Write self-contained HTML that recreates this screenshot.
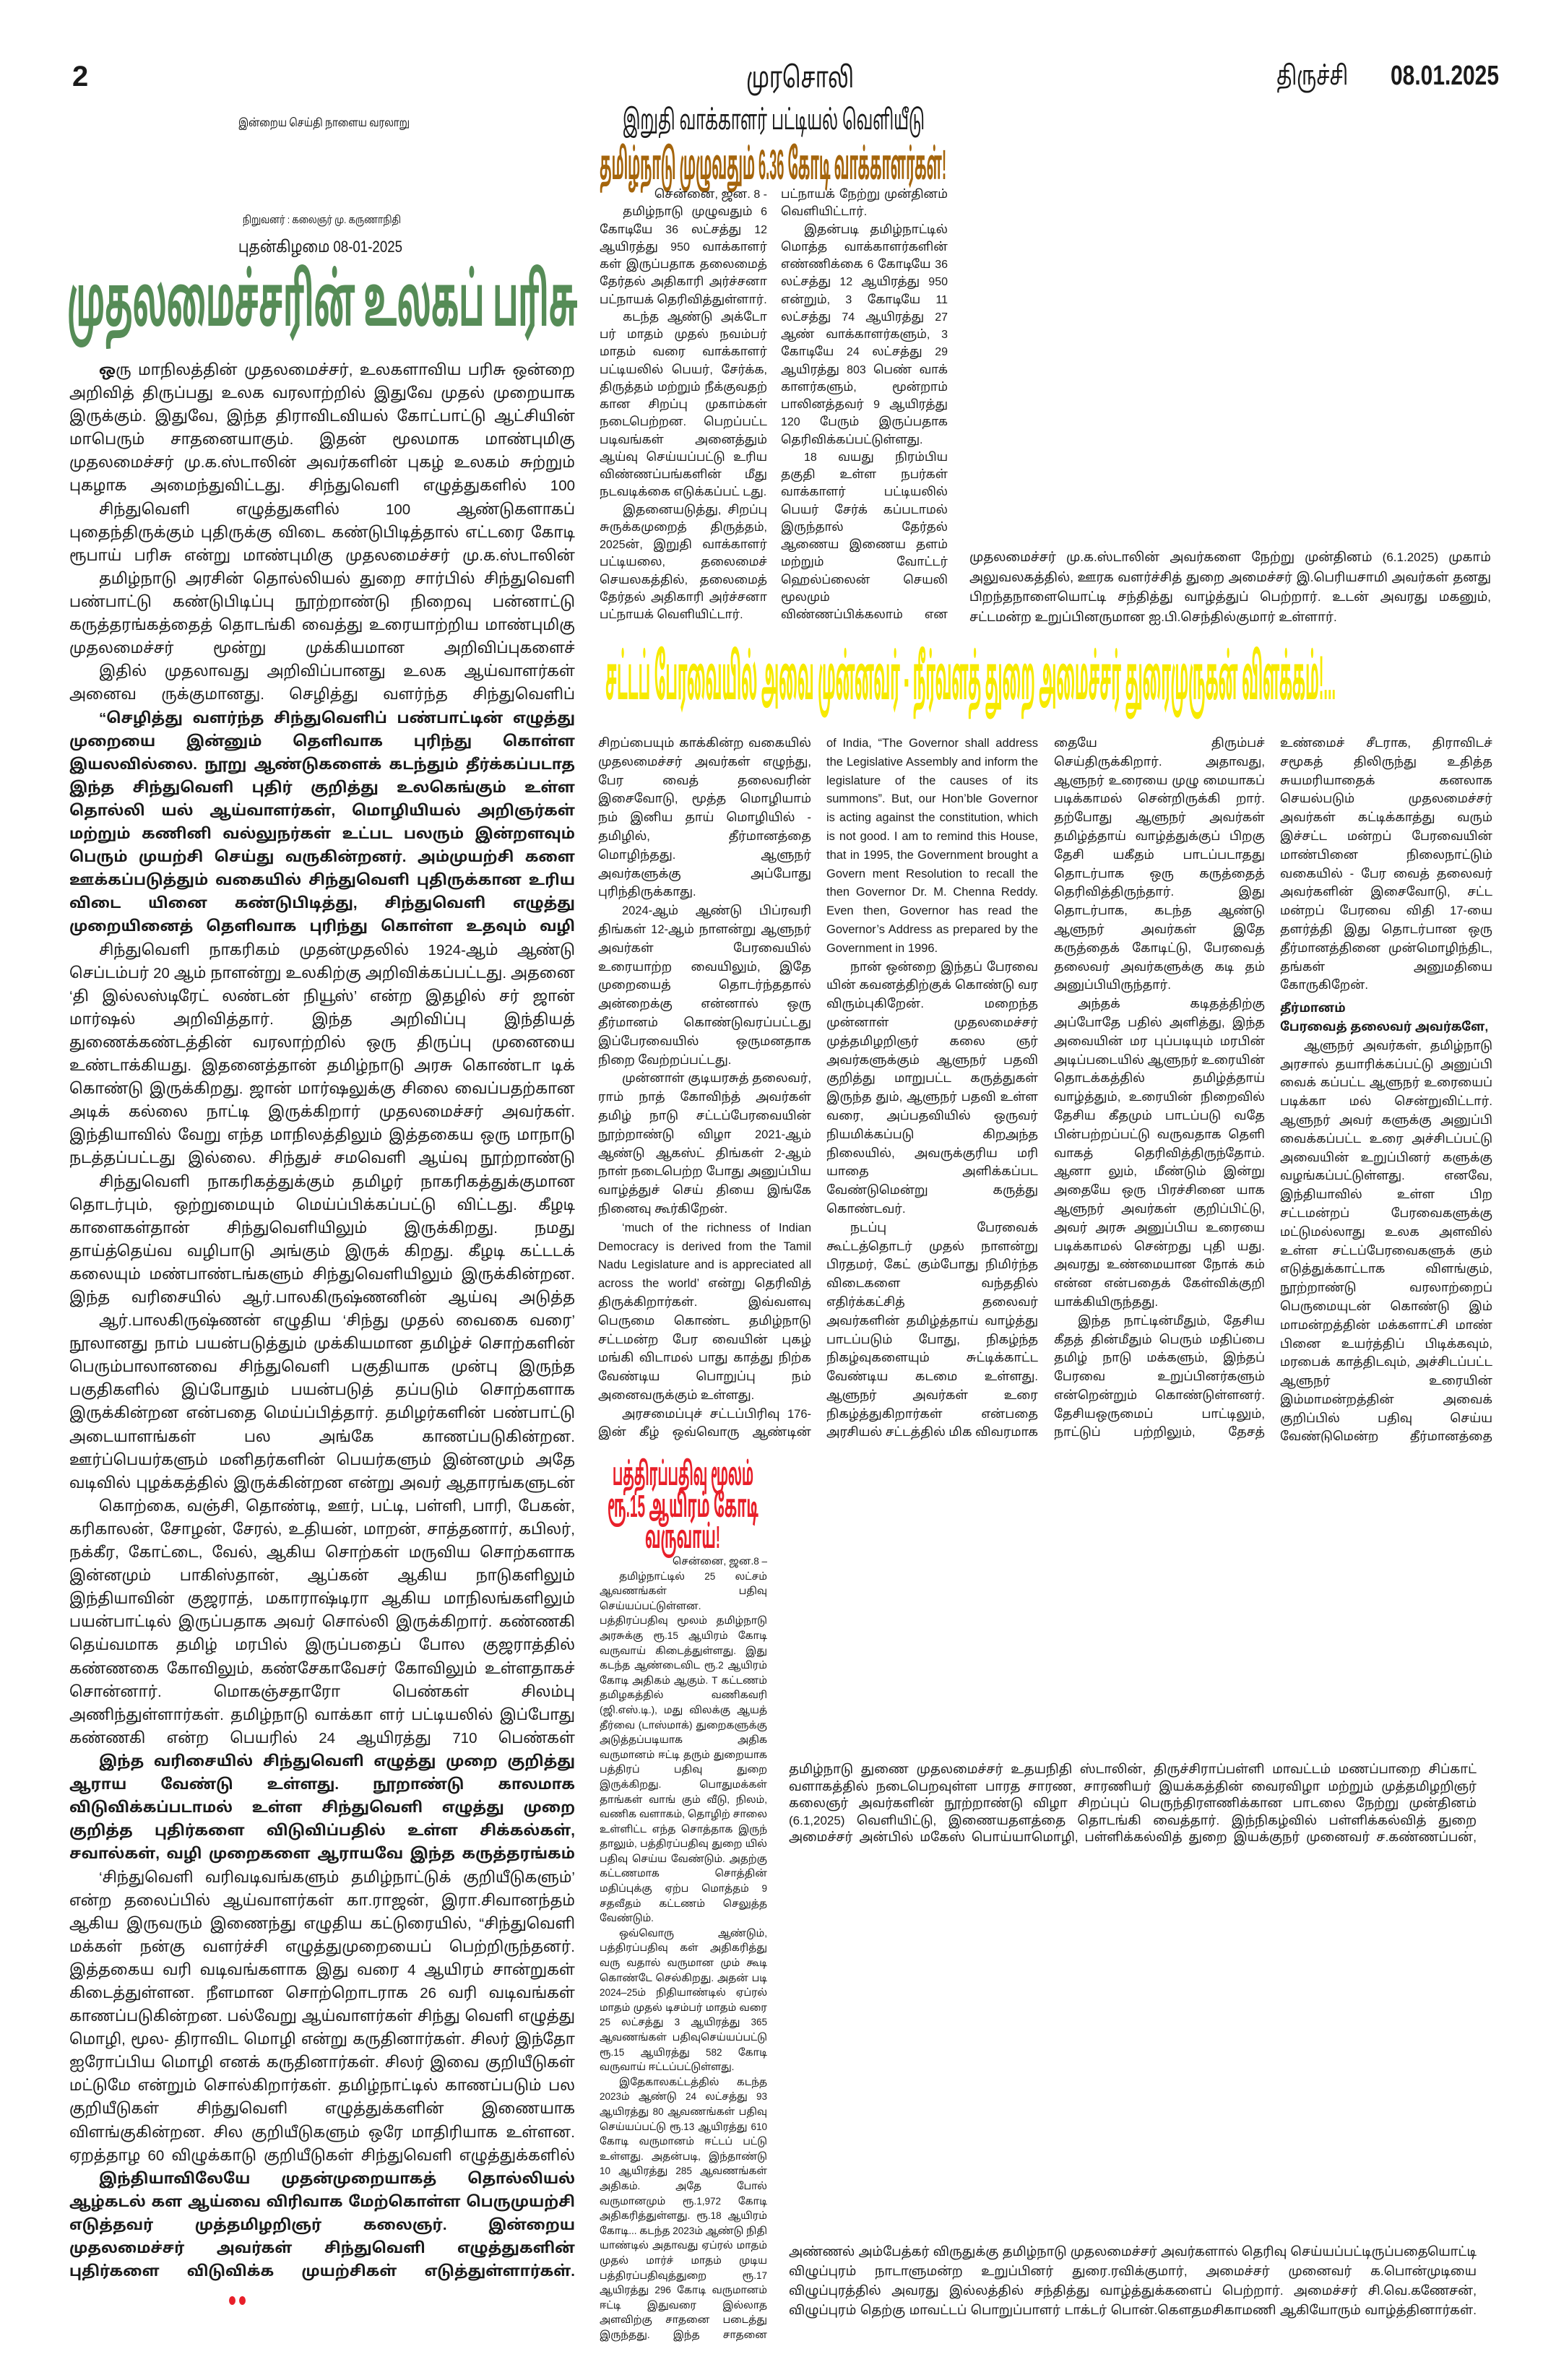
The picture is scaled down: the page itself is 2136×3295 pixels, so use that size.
<!DOCTYPE html>
<html lang="ta">
<head>
<meta charset="utf-8">
<style>
html,body{margin:0;padding:0;background:#fff;}
body{width:2136px;height:3295px;position:relative;overflow:hidden;
font-family:"Liberation Sans","Noto Sans Tamil","Lohit Tamil","Noto Sans CJK JP",sans-serif;color:#1a1a1a;}
.a{position:absolute;}
.fit{position:absolute;white-space:nowrap;overflow:visible;}
.fit span{display:inline-block;white-space:nowrap;transform-origin:0 0;}
.blk{position:absolute;overflow:hidden;text-align:justify;}
.blk p{margin:0;text-indent:2em;}
.left{font-size:20.5px;line-height:32.1px;}
.b{font-weight:bold;}
.tm{font-size:16px;line-height:24.25px;}
.lw{font-size:16.5px;line-height:25.8px;}
.bx{font-size:13.5px;line-height:20.6px;}
.cap{font-size:17px;line-height:23.5px;}
</style>
</head>
<body>

<div class="a" style="left:100px;top:84px;font-size:40px;font-weight:bold;">2</div>
<div class="fit" style="left:1033px;top:86px;width:149px;font-size:40px;"><span>முரசொலி</span></div>
<div class="fit" style="left:1767px;top:84px;width:99px;font-size:36px;"><span>திருச்சி</span></div>
<div class="fit" style="left:1925px;top:84px;width:150px;font-size:38px;font-weight:bold;"><span>08.01.2025</span></div>

<div class="fit" style="left:330px;top:162px;width:237px;font-size:15px;"><span>இன்றைய செய்தி நாளைய வரலாறு</span></div>
<div class="fit" style="left:336px;top:296px;width:219px;font-size:14px;"><span>நிறுவனர் : கலைஞர் மு. கருணாநிதி</span></div>
<div class="fit" style="left:330px;top:329px;width:227px;font-size:22px;"><span>புதன்கிழமை 08-01-2025</span></div>

<div class="fit" style="left:93px;top:362px;width:707px;font-size:100px;font-weight:bold;color:#568c57;line-height:1.1;"><span>முதலமைச்சரின் உலகப் பரிசு</span></div>

<div class="blk left" style="left:96px;top:497px;width:700px;height:192.6px;"><p><b>ஒ</b>ரு மாநிலத்தின் முதலமைச்சர், உலகளாவிய பரிசு ஒன்றை அறிவித் திருப்பது உலக வரலாற்றில் இதுவே முதல் முறையாக இருக்கும். இதுவே, இந்த திராவிடவியல் கோட்பாட்டு ஆட்சியின் மாபெரும் சாதனையாகும். இதன் மூலமாக மாண்புமிகு முதலமைச்சர் மு.க.ஸ்டாலின் அவர்களின் புகழ் உலகம் சுற்றும் புகழாக அமைந்துவிட்டது. சிந்துவெளி எழுத்துகளில் 100 ஆண்டுகளாகப் புதைந்திருக்கும் புதிருக்கு விடை கண்டுபிடித்தால் எட்டரை கோடி ரூபாய் பரிசு என்று மாண்புமிகு முதலமைச்சர் அறிவித்துள்ளார்கள்.</p></div>
<div class="blk left" style="left:96px;top:689.6px;width:700px;height:96.3px;"><p>சிந்துவெளி எழுத்துகளில் 100 ஆண்டுகளாகப் புதைந்திருக்கும் புதிருக்கு விடை கண்டுபிடித்தால் எட்டரை கோடி ரூபாய் பரிசு என்று மாண்புமிகு முதலமைச்சர் மு.க.ஸ்டாலின் அவர்கள் அறிவித்துள்ளார்கள். தமிழ்நாடு அரசின் தொல்லியல் துறை சார்பில் சிந்துவெளி பண்பாட்டு கண்டுபிடிப்பு</p></div>
<div class="blk left" style="left:96px;top:785.9px;width:700px;height:128.4px;"><p>தமிழ்நாடு அரசின் தொல்லியல் துறை சார்பில் சிந்துவெளி பண்பாட்டு கண்டுபிடிப்பு நூற்றாண்டு நிறைவு பன்னாட்டு கருத்தரங்கத்தைத் தொடங்கி வைத்து உரையாற்றிய மாண்புமிகு முதலமைச்சர் மூன்று முக்கியமான அறிவிப்புகளைச் செய்துள்ளார்கள். இதில் முதலாவது அறிவிப்பானது உலக ஆய்வாளர்கள் அனைவருக்குமானது என்று கூறப்படுகிறது.</p></div>
<div class="blk left" style="left:96px;top:914.3px;width:700px;height:64.2px;"><p>இதில் முதலாவது அறிவிப்பானது உலக ஆய்வாளர்கள் அனைவ ருக்குமானது. செழித்து வளர்ந்த சிந்துவெளிப் பண்பாட்டின் எழுத்து முறை</p></div>
<div class="blk left b" style="left:96px;top:978.5px;width:700px;height:321px;"><p>“செழித்து வளர்ந்த சிந்துவெளிப் பண்பாட்டின் எழுத்து முறையை இன்னும் தெளிவாக புரிந்து கொள்ள இயலவில்லை. நூறு ஆண்டுகளைக் கடந்தும் தீர்க்கப்படாத இந்த சிந்துவெளி புதிர் குறித்து உலகெங்கும் உள்ள தொல்லி யல் ஆய்வாளர்கள், மொழியியல் அறிஞர்கள் மற்றும் கணினி வல்லுநர்கள் உட்பட பலரும் இன்றளவும் பெரும் முயற்சி செய்து வருகின்றனர். அம்முயற்சி களை ஊக்கப்படுத்தும் வகையில் சிந்துவெளி புதிருக்கான உரிய விடை யினை கண்டுபிடித்து, சிந்துவெளி எழுத்து முறையினைத் தெளிவாக புரிந்து கொள்ள உதவும் வழி வகையினை தொல்லியல் அறிஞர்கள் ஏற்கும்படி வெளிக்கொணரும் நபர்கள் அல்லது அமைப்பிற்கு ஒரு மில்லியன் அமெரிக்க டாலர் ( 8 கோடியே 57 லட்சத்து 70 ஆயிரம்) பரிசாக வழங்கப்படும்” என்று சொல்லி இருக்கிறார் மாண்புமிகு முதலமைச்சர் அவர்கள்.</p></div>
<div class="blk left" style="left:96px;top:1299.5px;width:700px;height:321px;"><p>சிந்துவெளி நாகரிகம் முதன்முதலில் 1924-ஆம் ஆண்டு செப்டம்பர் 20 ஆம் நாளன்று உலகிற்கு அறிவிக்கப்பட்டது. அதனை ‘தி இல்லஸ்டிரேட் லண்டன் நியூஸ்’ என்ற இதழில் சர் ஜான் மார்ஷல் அறிவித்தார். இந்த அறிவிப்பு இந்தியத் துணைக்கண்டத்தின் வரலாற்றில் ஒரு திருப்பு முனையை உண்டாக்கியது. இதனைத்தான் தமிழ்நாடு அரசு கொண்டா டிக் கொண்டு இருக்கிறது. ஜான் மார்ஷலுக்கு சிலை வைப்பதற்கான அடிக் கல்லை நாட்டி இருக்கிறார் முதலமைச்சர் அவர்கள். இந்தியாவில் வேறு எந்த மாநிலத்திலும் இத்தகைய ஒரு மாநாடு நடத்தப்பட்டது இல்லை. சிந்துச் சமவெளி ஆய்வு நூற்றாண்டு விழாவும் கொண்டாடப்பட்டு இருக்கிறது. இது தமிழ்நாட்டின் வரலாற்றில் மிக முக்கியமான நிகழ்வாகக் கருதப்படுகிறது. உலக அறிஞர்கள் பலரும் இதனைப் பாராட்டியுள்ளனர்.</p></div>
<div class="blk left" style="left:96px;top:1620.5px;width:700px;height:192.6px;"><p>சிந்துவெளி நாகரிகத்துக்கும் தமிழர் நாகரிகத்துக்குமான தொடர்பும், ஒற்றுமையும் மெய்ப்பிக்கப்பட்டு விட்டது. கீழடி காளைகள்தான் சிந்துவெளியிலும் இருக்கிறது. நமது தாய்த்தெய்வ வழிபாடு அங்கும் இருக் கிறது. கீழடி கட்டடக் கலையும் மண்பாண்டங்களும் சிந்துவெளியிலும் இருக்கின்றன. இந்த வரிசையில் ஆர்.பாலகிருஷ்ணனின் ஆய்வு அடுத்த கட்டத்துக்கு நகர்த்தியது. இவை அனைத்தும் ஆய்வாளர்களால் உறுதி செய்யப்பட்டு இருக்கின்றன என்று குறிப்பிடப்பட்டுள்ளது.</p></div>
<div class="blk left" style="left:96px;top:1813.1px;width:700px;height:256.8px;"><p>ஆர்.பாலகிருஷ்ணன் எழுதிய ‘சிந்து முதல் வைகை வரை’ நூலானது நாம் பயன்படுத்தும் முக்கியமான தமிழ்ச் சொற்களின் பெரும்பாலானவை சிந்துவெளி பகுதியாக முன்பு இருந்த பகுதிகளில் இப்போதும் பயன்படுத் தப்படும் சொற்களாக இருக்கின்றன என்பதை மெய்ப்பித்தார். தமிழர்களின் பண்பாட்டு அடையாளங்கள் பல அங்கே காணப்படுகின்றன. ஊர்ப்பெயர்களும் மனிதர்களின் பெயர்களும் இன்னமும் அதே வடிவில் புழக்கத்தில் இருக்கின்றன என்று அவர் ஆதாரங்களுடன் விளக்கியுள்ளார். இந்த ஆய்வு உலக அளவில் பெரும் கவனத்தை ஈர்த்தது.</p></div>
<div class="blk left" style="left:96px;top:2069.9px;width:700px;height:353.1px;"><p>கொற்கை, வஞ்சி, தொண்டி, ஊர், பட்டி, பள்ளி, பாரி, பேகன், கரிகாலன், சோழன், சேரல், உதியன், மாறன், சாத்தனார், கபிலர், நக்கீர, கோட்டை, வேல், ஆகிய சொற்கள் மருவிய சொற்களாக இன்னமும் பாகிஸ்தான், ஆப்கன் ஆகிய நாடுகளிலும் இந்தியாவின் குஜராத், மகாராஷ்டிரா ஆகிய மாநிலங்களிலும் பயன்பாட்டில் இருப்பதாக அவர் சொல்லி இருக்கிறார். கண்ணகி தெய்வமாக தமிழ் மரபில் இருப்பதைப் போல குஜராத்தில் கண்ணகை கோவிலும், கண்சேகாவேசர் கோவிலும் உள்ளதாகச் சொன்னார். மொகஞ்சதாரோ பெண்கள் சிலம்பு அணிந்துள்ளார்கள். தமிழ்நாடு வாக்கா ளர் பட்டியலில் இப்போது கண்ணகி என்ற பெயரில் 24 ஆயிரத்து 710 பெண்கள் இருக்கிறார்கள் என்கிறார். பாகிஸ்தான், ஆப்கனில் ‘கண்ணகி’ என்ற பெயர் மருவி இன்னமும் இருக்கிறது என்கிறார்.</p></div>
<div class="blk left b" style="left:96px;top:2423px;width:700px;height:160.5px;"><p>இந்த வரிசையில் சிந்துவெளி எழுத்து முறை குறித்து ஆராய வேண்டு உள்ளது. நூறாண்டு காலமாக விடுவிக்கப்படாமல் உள்ள சிந்துவெளி எழுத்து முறை குறித்த புதிர்களை விடுவிப்பதில் உள்ள சிக்கல்கள், சவால்கள், வழி முறைகளை ஆராயவே இந்த கருத்தரங்கம் நிதி மற்றும் தொல்லியல் துறை அமைச்சர் தங்கம் தென்னரசு, நிதித் துறை செயலாளர் மற்றும் தொல்லியல் துறை ஆணையர் உதயச்சந்திரனும் இணைந்து ஏற்பாடு செய்துள்ளார்கள்.</p></div>
<div class="blk left" style="left:96px;top:2583.5px;width:700px;height:417.3px;"><p>‘சிந்துவெளி வரிவடிவங்களும் தமிழ்நாட்டுக் குறியீடுகளும்’ என்ற தலைப்பில் ஆய்வாளர்கள் கா.ராஜன், இரா.சிவானந்தம் ஆகிய இருவரும் இணைந்து எழுதிய கட்டுரையில், “சிந்துவெளி மக்கள் நன்கு வளர்ச்சி எழுத்துமுறையைப் பெற்றிருந்தனர். இத்தகைய வரி வடிவங்களாக இது வரை 4 ஆயிரம் சான்றுகள் கிடைத்துள்ளன. நீளமான சொற்றொடராக 26 வரி வடிவங்கள் காணப்படுகின்றன. பல்வேறு ஆய்வாளர்கள் சிந்து வெளி எழுத்து மொழி, மூல- திராவிட மொழி என்று கருதினார்கள். சிலர் இந்தோ ஐரோப்பிய மொழி எனக் கருதினார்கள். சிலர் இவை குறியீடுகள் மட்டுமே என்றும் சொல்கிறார்கள். தமிழ்நாட்டில் காணப்படும் பல குறியீடுகள் சிந்துவெளி எழுத்துக்களின் இணையாக விளங்குகின்றன. சில குறியீடுகளும் ஒரே மாதிரியாக உள்ளன. ஏறத்தாழ 60 விழுக்காடு குறியீடுகள் சிந்துவெளி எழுத்துக்களில் இணையாகக் காணப்படுகின்றன” என்று குறிப் பிட்டுள்ளார்கள். இவை அனைத்தையும் கொண்டு சிந்துவெளி மக்கள் பயன்படுத்திய மொழி எது என்பதைக் கண்டறிய முதலமைச்சர் அவர்கள் உத்தரவிட்டுள்ளார்கள்.</p></div>
<div class="blk left b" style="left:96px;top:3000.8px;width:700px;height:160.5px;"><p>இந்தியாவிலேயே முதன்முறையாகத் தொல்லியல் ஆழ்கடல் கள ஆய்வை விரிவாக மேற்கொள்ள பெருமுயற்சி எடுத்தவர் முத்தமிழறிஞர் கலைஞர். இன்றைய முதலமைச்சர் அவர்கள் சிந்துவெளி எழுத்துகளின் புதிர்களை விடுவிக்க முயற்சிகள் எடுத்துள்ளார்கள். முதலமைச்சரின் அறிவிப் பானது அவரது பெயரை உலகமே உன்னிப்பாக கவனிக்க வைத்திருக்கிறது.</p></div>
<div class="a" style="left:317px;top:3179px;width:9px;height:12px;border-radius:50%;background:#e8202a;"></div>
<div class="a" style="left:331px;top:3179px;width:9px;height:12px;border-radius:50%;background:#e8202a;"></div>

<div class="fit" style="left:862px;top:146px;width:418px;font-size:38px;"><span>இறுதி வாக்காளர் பட்டியல் வெளியீடு</span></div>
<div class="fit" style="left:830px;top:196px;width:480px;font-size:58px;font-weight:bold;color:#a5650c;line-height:1.15;"><span>தமிழ்நாடு முழுவதும் 6.36 கோடி வாக்காளர்கள்!</span></div>

<div class="blk tm" style="left:830px;top:258px;width:232px;height:606px;">
<p style="text-align:right;">சென்னை, ஜன. 8 -</p>
<p>தமிழ்நாடு முழுவதும் 6 கோடியே 36 லட்சத்து 12 ஆயிரத்து 950 வாக்காளர் கள் இருப்பதாக தலைமைத் தேர்தல் அதிகாரி அர்ச்சனா பட்நாயக் தெரிவித்துள்ளார்.</p>
<p>கடந்த ஆண்டு அக்டோ பர் மாதம் முதல் நவம்பர் மாதம் வரை வாக்காளர் பட்டியலில் பெயர், சேர்க்க, திருத்தம் மற்றும் நீக்குவதற் கான சிறப்பு முகாம்கள் நடைபெற்றன. பெறப்பட்ட படிவங்கள் அனைத்தும் ஆய்வு செய்யப்பட்டு உரிய விண்ணப்பங்களின் மீது நடவடிக்கை எடுக்கப்பட் டது.</p>
<p>இதனையடுத்து, சிறப்பு சுருக்கமுறைத் திருத்தம், 2025ன், இறுதி வாக்காளர் பட்டியலை, தலைமைச் செயலகத்தில், தலைமைத் தேர்தல் அதிகாரி அர்ச்சனா பட்நாயக் வெளியிட்டார்.</p>
</div>
<div class="blk tm" style="left:1081px;top:258px;width:231px;height:606px;">
<p style="text-indent:0;">பட்நாயக் நேற்று முன்தினம் வெளியிட்டார்.</p>
<p>இதன்படி தமிழ்நாட்டில் மொத்த வாக்காளர்களின் எண்ணிக்கை 6 கோடியே 36 லட்சத்து 12 ஆயிரத்து 950 என்றும், 3 கோடியே 11 லட்சத்து 74 ஆயிரத்து 27 ஆண் வாக்காளர்களும், 3 கோடியே 24 லட்சத்து 29 ஆயிரத்து 803 பெண் வாக் காளர்களும், மூன்றாம் பாலினத்தவர் 9 ஆயிரத்து 120 பேரும் இருப்பதாக தெரிவிக்கப்பட்டுள்ளது.</p>
<p>18 வயது நிரம்பிய தகுதி உள்ள நபர்கள் வாக்காளர் பட்டியலில் பெயர் சேர்க் கப்படாமல் இருந்தால் தேர்தல் ஆணைய இணைய தளம் மற்றும் வோட்டர் ஹெல்ப்லைன் செயலி மூலமும் விண்ணப்பிக்கலாம் என தலைமைத் தேர்தல் அதிகாரி அர்ச்சனா பட்நாயக் தெரிவித்தார்.</p>
</div>

<div class="blk cap" style="left:1342px;top:758px;width:722px;height:112px;line-height:27.7px;">முதலமைச்சர் மு.க.ஸ்டாலின் அவர்களை நேற்று முன்தினம் (6.1.2025) முகாம் அலுவலகத்தில், ஊரக வளர்ச்சித் துறை அமைச்சர் இ.பெரியசாமி அவர்கள் தனது பிறந்தநாளையொட்டி சந்தித்து வாழ்த்துப் பெற்றார். உடன் அவரது மகனும், சட்டமன்ற உறுப்பினருமான ஐ.பி.செந்தில்குமார் உள்ளார்.</div>

<div class="fit" style="left:838px;top:888px;width:1011px;font-size:86px;font-weight:bold;color:#f7ea00;line-height:1.2;"><span>சட்டப் பேரவையில் அவை முன்னவர் - நீர்வளத் துறை அமைச்சர் துரைமுருகன் விளக்கம்!...</span></div>

<div class="blk lw" style="left:828px;top:1017px;width:295px;height:980px;">
<p style="text-indent:0;">சிறப்பையும் காக்கின்ற வகையில் முதலமைச்சர் அவர்கள் எழுந்து, பேர வைத் தலைவரின் இசைவோடு, மூத்த மொழியாம் நம் இனிய தாய் மொழியில் - தமிழில், தீர்மானத்தை மொழிந்தது. ஆளுநர் அவர்களுக்கு அப்போது புரிந்திருக்காது.</p>
<p>2024-ஆம் ஆண்டு பிப்ரவரி திங்கள் 12-ஆம் நாளன்று ஆளுநர் அவர்கள் பேரவையில் உரையாற்ற வையிலும், இதே முறையைத் தொடர்ந்ததால் அன்றைக்கு என்னால் ஒரு தீர்மானம் கொண்டுவரப்பட்டது இப்பேரவையில் ஒருமனதாக நிறை வேற்றப்பட்டது.</p>
<p>முன்னாள் குடியரசுத் தலைவர், ராம் நாத் கோவிந்த் அவர்கள் தமிழ் நாடு சட்டப்பேரவையின் நூற்றாண்டு விழா 2021-ஆம் ஆண்டு ஆகஸ்ட் திங்கள் 2-ஆம் நாள் நடைபெற்ற போது அனுப்பிய வாழ்த்துச் செய் தியை இங்கே நினைவு கூர்கிறேன்.</p>
<p>‘much of the richness of Indian Democracy is derived from the Tamil Nadu Legislature and is appreciated all across the world’ என்று தெரிவித் திருக்கிறார்கள். இவ்வளவு பெருமை கொண்ட தமிழ்நாடு சட்டமன்ற பேர வையின் புகழ் மங்கி விடாமல் பாது காத்து நிற்க வேண்டிய பொறுப்பு நம் அனைவருக்கும் உள்ளது.</p>
<p>அரசமைப்புச் சட்டப்பிரிவு 176-இன் கீழ் ஒவ்வொரு ஆண்டின் தொடக்கக் கூட்டத்தொடரிலும் ஆளுநர் அவர்கள் உரை நிகழ்த்துகிறார்கள் என்பதை அரசியல் சட்டத்தில் மிக விவரமாக தெரிவித்து இருக்கிறார்கள்.</p>
<p>As per Article 176 of the Constitution</p>
</div>
<div class="blk lw" style="left:1144px;top:1017px;width:293px;height:980px;">
<p style="text-indent:0;">of India, “The Governor shall address the Legislative Assembly and inform the legislature of the causes of its summons”. But, our Hon’ble Governor is acting against the constitution, which is not good. I am to remind this House, that in 1995, the Government brought a Govern ment Resolution to recall the then Governor Dr. M. Chenna Reddy. Even then, Governor has read the Governor’s Address as prepared by the Government in 1996.</p>
<p>நான் ஒன்றை இந்தப் பேரவை யின் கவனத்திற்குக் கொண்டு வர விரும்புகிறேன். மறைந்த முன்னாள் முதலமைச்சர் முத்தமிழறிஞர் கலை ஞர் அவர்களுக்கும் ஆளுநர் பதவி குறித்து மாறுபட்ட கருத்துகள் இருந்த தும், ஆளுநர் பதவி உள்ள வரை, அப்பதவியில் ஒருவர் நியமிக்கப்படு கிறஅந்த நிலையில், அவருக்குரிய மரி யாதை அளிக்கப்பட வேண்டுமென்று கருத்து கொண்டவர்.</p>
<p>நடப்பு பேரவைக் கூட்டத்தொடர் முதல் நாளன்று பிரதமர், கேட் கும்போது நிமிர்ந்த விடைகளை வந்ததில் எதிர்க்கட்சித் தலைவர் அவர்களின் தமிழ்த்தாய் வாழ்த்து பாடப்படும் போது, நிகழ்ந்த நிகழ்வுகளையும் சுட்டிக்காட்ட வேண்டிய கடமை உள்ளது. ஆளுநர் அவர்கள் உரை நிகழ்த்துகிறார்கள் என்பதை அரசியல் சட்டத்தில் மிக விவரமாக தெரிவித்து இருக்கிறார்கள். வைகையைக் கூட்ட யோசனை வழங்கி னார்.</p>
<p>மீண்டும் ஆளுநர் அவர்கள் முந்தைய ஆண்டுகளில் செய்துள்ளதை</p>
</div>
<div class="blk lw" style="left:1459px;top:1017px;width:292px;height:980px;">
<p style="text-indent:0;">தையே திரும்பச் செய்திருக்கிறார். அதாவது, ஆளுநர் உரையை முழு மையாகப் படிக்காமல் சென்றிருக்கி றார். தற்போது ஆளுநர் அவர்கள் தமிழ்த்தாய் வாழ்த்துக்குப் பிறகு தேசி யகீதம் பாடப்படாதது தொடர்பாக ஒரு கருத்தைத் தெரிவித்திருந்தார். இது தொடர்பாக, கடந்த ஆண்டு ஆளுநர் அவர்கள் இதே கருத்தைக் கோடிட்டு, பேரவைத் தலைவர் அவர்களுக்கு கடி தம் அனுப்பியிருந்தார்.</p>
<p>அந்தக் கடிதத்திற்கு அப்போதே பதில் அளித்து, இந்த அவையின் மர புப்படியும் மரபின் அடிப்படையில் ஆளுநர் உரையின் தொடக்கத்தில் தமிழ்த்தாய் வாழ்த்தும், உரையின் நிறைவில் தேசிய கீதமும் பாடப்படு வதே பின்பற்றப்பட்டு வருவதாக தெளி வாகத் தெரிவித்திருந்தோம். ஆனா லும், மீண்டும் இன்று அதையே ஒரு பிரச்சினை யாக ஆளுநர் அவர்கள் குறிப்பிட்டு, அவர் அரசு அனுப்பிய உரையை படிக்காமல் சென்றது புதி யது. அவரது உண்மையான நோக் கம் என்ன என்பதைக் கேள்விக்குறி யாக்கியிருந்தது.</p>
<p>இந்த நாட்டின்மீதும், தேசிய கீதத் தின்மீதும் பெரும் மதிப்பை தமிழ் நாடு மக்களும், இந்தப் பேரவை உறுப்பினர்களும் என்றென்றும் கொண்டுள்ளனர். தேசியஒருமைப் பாட்டிலும், நாட்டுப் பற்றிலும், தேசத் தன்மதிப்பிலும் கொண்டு இந்த அரசு.</p>
<p class="b" style="text-indent:0;">பேரவைத் தலைவர் அவர்களே,</p>
<p>திராவிட முன்னேற்றக் கழகத்தின்</p>
</div>
<div class="blk lw" style="left:1772px;top:1017px;width:294px;height:980px;">
<p style="text-indent:0;">உண்மைச் சீடராக, திராவிடச் சமூகத் திலிருந்து உதித்த சுயமரியாதைக் கனலாக செயல்படும் முதலமைச்சர் அவர்கள் கட்டிக்காத்து வரும் இச்சட்ட மன்றப் பேரவையின் மாண்பினை நிலைநாட்டும் வகையில் - பேர வைத் தலைவர் அவர்களின் இசைவோடு, சட்ட மன்றப் பேரவை விதி 17-யை தளர்த்தி இது தொடர்பான ஒரு தீர்மானத்தினை முன்மொழிந்திட, தங்கள் அனுமதியை கோருகிறேன்.</p>
<p class="b" style="text-indent:0;margin-top:6px;">தீர்மானம்</p>
<p class="b" style="text-indent:0;">பேரவைத் தலைவர் அவர்களே,</p>
<p>ஆளுநர் அவர்கள், தமிழ்நாடு அரசால் தயாரிக்கப்பட்டு அனுப்பி வைக் கப்பட்ட ஆளுநர் உரையைப் படிக்கா மல் சென்றுவிட்டார். ஆளுநர் அவர் களுக்கு அனுப்பி வைக்கப்பட்ட உரை அச்சிடப்பட்டு அவையின் உறுப்பினர் களுக்கு வழங்கப்பட்டுள்ளது. எனவே, இந்தியாவில் உள்ள பிற சட்டமன்றப் பேரவைகளுக்கு மட்டுமல்லாது உலக அளவில் உள்ள சட்டப்பேரவைகளுக் கும் எடுத்துக்காட்டாக விளங்கும், நூற்றாண்டு வரலாற்றைப் பெருமையுடன் கொண்டு இம் மாமன்றத்தின் மக்களாட்சி மாண் பினை உயர்த்திப் பிடிக்கவும், மரபைக் காத்திடவும், அச்சிடப்பட்ட ஆளுநர் உரையின் இம்மாமன்றத்தின் அவைக் குறிப்பில் பதிவு செய்ய வேண்டுமென்ற தீர்மானத்தை நான் மொழிகிறேன்.</p>
<p>இவ்வாறு அவை முன்னவர் - அமைச்சர் துரைமுருகன் அவர்கள் தீர்மானத்தை முன்மொழிந்தார். அவை முன்னவரின் தீர்மானம் ஒரு மனதாக நிறைவேறியது.</p>
</div>

<div class="fit" style="left:848px;top:2017px;width:195px;font-size:44px;font-weight:bold;color:#e8202a;line-height:1.15;"><span>பத்திரப்பதிவு மூலம்</span></div>
<div class="fit" style="left:841px;top:2061px;width:209px;font-size:44px;font-weight:bold;color:#e8202a;line-height:1.15;"><span>ரூ.15 ஆயிரம் கோடி</span></div>
<div class="fit" style="left:893px;top:2104px;width:104px;font-size:44px;font-weight:bold;color:#e8202a;line-height:1.15;"><span>வருவாய்!</span></div>

<div class="blk bx" style="left:830px;top:2152px;width:232px;height:1090px;">
<p style="text-align:right;">சென்னை, ஜன.8 –</p>
<p>தமிழ்நாட்டில் 25 லட்சம் ஆவணங்கள் பதிவு செய்யப்பட்டுள்ளன. பத்திரப்பதிவு மூலம் தமிழ்நாடு அரசுக்கு ரூ.15 ஆயிரம் கோடி வருவாய் கிடைத்துள்ளது. இது கடந்த ஆண்டைவிட ரூ.2 ஆயிரம் கோடி அதிகம் ஆகும். T கட்டணம் தமிழகத்தில் வணிகவரி (ஜி.எஸ்.டி.), மது விலக்கு ஆயத் தீர்வை (டாஸ்மாக்) துறைகளுக்கு அடுத்தப்படியாக அதிக வருமானம் ஈட்டி தரும் துறையாக பத்திரப் பதிவு துறை இருக்கிறது. பொதுமக்கள் தாங்கள் வாங் கும் வீடு, நிலம், வணிக வளாகம், தொழிற் சாலை உள்ளிட்ட எந்த சொத்தாக இருந் தாலும், பத்திரப்பதிவு துறை யில் பதிவு செய்ய வேண்டும். அதற்கு கட்டணமாக சொத்தின் மதிப்புக்கு ஏற்ப மொத்தம் 9 சதவீதம் கட்டணம் செலுத்த வேண்டும்.</p>
<p>ஒவ்வொரு ஆண்டும், பத்திரப்பதிவு கள் அதிகரித்து வரு வதால் வருமான மும் கூடி கொண்டே செல்கிறது. அதன் படி 2024–25ம் நிதியாண்டில் ஏப்ரல் மாதம் முதல் டிசம்பர் மாதம் வரை 25 லட்சத்து 3 ஆயிரத்து 365 ஆவணங்கள் பதிவுசெய்யப்பட்டு ரூ.15 ஆயிரத்து 582 கோடி வருவாய் ஈட்டப்பட்டுள்ளது.</p>
<p>இதேகாலகட்டத்தில் கடந்த 2023ம் ஆண்டு 24 லட்சத்து 93 ஆயிரத்து 80 ஆவணங்கள் பதிவு செய்யப்பட்டு ரூ.13 ஆயிரத்து 610 கோடி வருமானம் ஈட்டப் பட்டு உள்ளது. அதன்படி, இந்தாண்டு 10 ஆயிரத்து 285 ஆவணங்கள் அதிகம். அதே போல் வருமானமும் ரூ.1,972 கோடி அதிகரித்துள்ளது. ரூ.18 ஆயிரம் கோடி... கடந்த 2023ம் ஆண்டு நிதி யாண்டில் அதாவது ஏப்ரல் மாதம் முதல் மார்ச் மாதம் முடிய பத்திரப்பதிவுத்துறை ரூ.17 ஆயிரத்து 296 கோடி வருமானம் ஈட்டி இதுவரை இல்லாத அளவிற்கு சாதனை படைத்து இருந்தது. இந்த சாதனை இந்தாண்டு மீண்டும் முறியடிக் கப்படும் என்று எதிர்பார்க்கப்படுகிறது. ஏனென்றால் இதுவரை ரூ.15 ஆயிரத்து 582 கோடி வருவாய் கிடைத்து உள்ளது. இன்னும் கூடுதலாக ரூ.1,715 கோடி தான் தேவை. இன்னும் மார்ச் மாதம் 31ந் தேதி வரை உள்ளதால் வரும் தை, மாசி மாதங்களில் அதிகளவு பத்திரப்ப திவு நடக்கும் என்று எதிர்பார்க்கப்படு கிறது. மேலும் இந்தாண்டு ரூ.18 ஆயி ரம் கோடியை தாண்டி விடும் என்றும் அதிகாரி ஒருவர் கூறினார்.</p>
</div>

<div class="blk cap" style="left:1092px;top:2438px;width:952px;height:120px;">தமிழ்நாடு துணை முதலமைச்சர் உதயநிதி ஸ்டாலின், திருச்சிராப்பள்ளி மாவட்டம் மணப்பாறை சிப்காட் வளாகத்தில் நடைபெறவுள்ள பாரத சாரண, சாரணியர் இயக்கத்தின் வைரவிழா மற்றும் முத்தமிழறிஞர் கலைஞர் அவர்களின் நூற்றாண்டு விழா சிறப்புப் பெருந்திரளணிக்கான பாடலை நேற்று முன்தினம் (6.1,2025) வெளியிட்டு, இணையதளத்தை தொடங்கி வைத்தார். இந்நிகழ்வில் பள்ளிக்கல்வித் துறை அமைச்சர் அன்பில் மகேஸ் பொய்யாமொழி, பள்ளிக்கல்வித் துறை இயக்குநர் முனைவர் ச.கண்ணப்பன், தனியார் பள்ளிகள் இயக்கக இயக்குநர் முனைவர் மு.பழனிச்சாமி, தொடக்கப்பள்ளி இயக்குநர் முனைவர் பூ.ஆ.நரேஷ் மற்றும் பள்ளிக் கல்வித் துறை அலுவலர்கள் உடனிருந்தனர்.</div>

<div class="blk cap" style="left:1092px;top:3104px;width:952px;height:108px;line-height:27px;">அண்ணல் அம்பேத்கர் விருதுக்கு தமிழ்நாடு முதலமைச்சர் அவர்களால் தெரிவு செய்யப்பட்டிருப்பதையொட்டி விழுப்புரம் நாடாளுமன்ற உறுப்பினர் துரை.ரவிக்குமார், அமைச்சர் முனைவர் க.பொன்முடியை விழுப்புரத்தில் அவரது இல்லத்தில் சந்தித்து வாழ்த்துக்களைப் பெற்றார். அமைச்சர் சி.வெ.கணேசன், விழுப்புரம் தெற்கு மாவட்டப் பொறுப்பாளர் டாக்டர் பொன்.கௌதமசிகாமணி ஆகியோரும் வாழ்த்தினார்கள். வி.சி.க. மாவட்டச் செயலாளர் பொன்னிவளவன், ஒன்றியச் செயலாளர் கல்பட்டு வி.ராஜா மற்றும் நிர்வாகிகள் உடனிருந்தனர்.</div>

<script>
document.querySelectorAll('.fit').forEach(function(e){
  var s=e.firstElementChild;
  var w=s.getBoundingClientRect().width;
  var t=parseFloat(e.style.width);
  if(w>0&&t>0){s.style.transform='scaleX('+(t/w)+')';}
});
</script>
</body>
</html>
